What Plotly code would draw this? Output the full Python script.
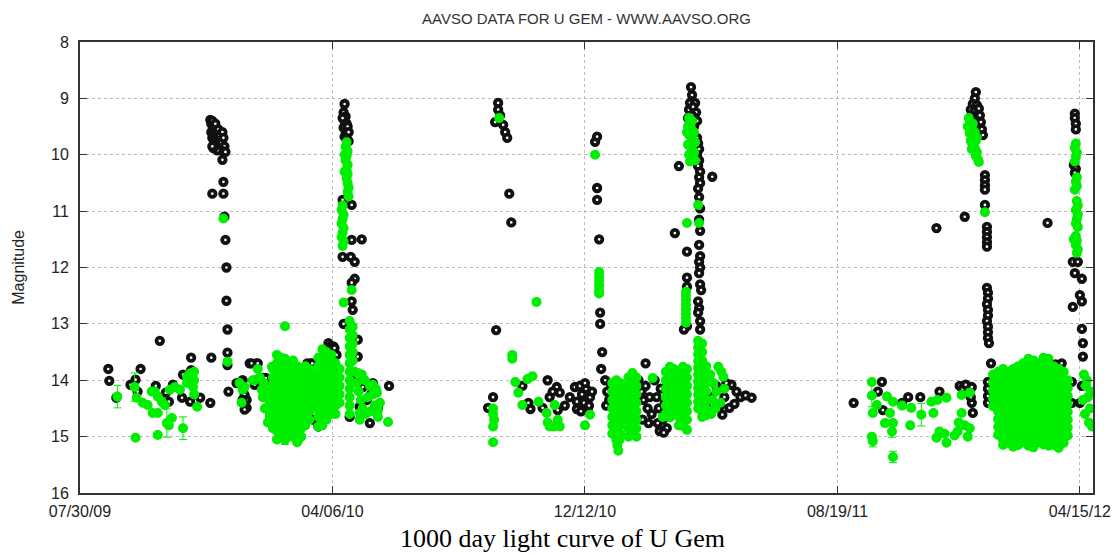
import pandas as pd
import plotly.graph_objects as go

# U Gem light curve, AAVSO, ~1000 days from 07/30/09
# day = days after 2009-07-30, mag = visual magnitude
start = pd.Timestamp('2009-07-30')

tick_dates = ['2009-07-30', '2010-04-06', '2010-12-12', '2011-08-19', '2012-04-15']
tick_text = ['07/30/09', '04/06/10', '12/12/10', '08/19/11', '04/15/12']

# black points (day, mag)
black_2009 = [(28, 13.8), (29, 14.01), (36, 14.31), (50, 14.08), (55, 13.99), (57, 14.2), (60, 13.8),
              (75, 14.1), (79, 13.3), (85, 14.22), (88, 14.38), (92, 14.08), (101, 14.31), (102, 13.9),
              (109, 14.38), (110, 13.6), (110, 13.82), (119, 14.31), (129, 14.4), (130, 13.6), (147, 14.2),
              (155, 14.05), (161, 14.0), (163, 14.26), (165, 14.49), (165, 14.35), (168, 13.7), (173, 14.08),
              (175, 13.7), (181, 14.0), (188, 14.02), (160, 14.03), (161, 14.35), (163, 14.52), (170, 13.7),
              (176, 13.7), (181, 13.96), (184, 13.96), (188, 14.2)]
black_ob1 = [(129, 9.38), (130, 9.45), (131, 9.4), (132, 9.5), (130, 9.6), (131, 9.7), (132, 9.62), (133, 9.55),
             (134, 9.45), (135, 9.6), (133, 9.8), (134, 9.75), (135, 9.88), (136, 9.7), (137, 9.55), (137, 9.82),
             (138, 9.65), (139, 9.9), (140, 9.78), (141, 9.6), (142, 9.7), (143, 9.85), (141, 9.93), (144, 9.95),
             (136, 9.92), (132, 9.88), (131, 9.85), (141, 10.09), (142, 10.48), (131, 10.69), (142, 10.69),
             (143, 11.1), (144, 11.51), (145, 12.0), (145, 12.59), (146, 13.1), (146, 13.51), (146, 13.73)]
black_2010a = [(218, 13.82), (225, 13.7), (228, 13.7), (230, 13.7), (226, 14.0), (231, 14.7), (235, 14.7),
               (236, 14.82), (246, 13.34), (248, 13.4), (251, 13.4), (252, 13.43), (254, 13.55), (246, 14.29),
               (262, 13.0), (275, 13.28), (274, 13.94), (280, 14.12), (290, 14.05), (288, 14.25), (287, 14.76),
               (277, 14.47), (267, 14.65), (275, 13.58), (306, 14.1), (284, 14.35), (295, 14.5)]
black_ob2 = [(262, 9.1), (261, 9.25), (263, 9.32), (262, 9.4), (264, 9.45), (261, 9.52), (263, 9.58), (265, 9.62),
             (262, 9.68), (264, 9.72), (266, 9.76), (265, 9.5), (260, 9.35), (266, 9.6), (260, 10.8), (269, 10.89),
             (269, 11.51), (279, 11.5), (260, 11.81), (268, 11.81), (272, 11.9), (272, 12.2), (269, 12.27),
             (269, 12.6), (270, 12.75), (261, 13.0)]
black_2010b = [(414, 9.08), (414, 9.2), (411, 9.42), (419, 9.47), (416, 9.3), (421, 9.6), (423, 9.7), (425, 10.69),
               (427, 11.2), (412, 13.11), (409, 14.3), (404, 14.49), (438, 14.1), (444, 14.4), (446, 14.51),
               (463, 14.0), (465, 14.3), (472, 14.12), (475, 14.22), (473, 14.53), (458, 14.49), (490, 14.12),
               (492, 14.38), (492, 14.51), (468, 14.2), (480, 14.45), (485, 14.3)]
black_2011a = [(495, 14.1), (497, 14.25), (499, 14.4), (501, 14.15), (503, 14.5), (505, 14.3), (507, 14.2),
               (496, 14.55), (500, 14.05), (504, 14.45), (510, 9.77), (512, 9.68), (512, 10.59), (512, 10.8),
               (514, 11.5), (515, 12.8), (515, 13.0), (517, 13.5), (516, 13.8), (520, 14.0), (522, 14.2),
               (524, 14.35), (526, 14.1), (527, 14.47), (521, 14.45), (553, 14.0), (556, 14.2), (558, 14.35),
               (560, 14.1), (562, 14.5), (564, 14.3), (566, 14.6), (557, 14.7), (560, 13.7), (563, 14.76),
               (569, 14.0), (571, 14.3), (573, 14.5), (575, 14.15), (577, 14.7), (579, 14.4), (581, 14.85),
               (583, 14.2), (585, 14.6), (587, 13.95), (589, 14.3), (591, 14.5), (574, 14.9), (578, 14.93),
               (572, 14.76)]
black_ob3 = [(605, 8.8), (606, 8.94), (604, 9.08), (609, 9.08), (603, 9.2), (607, 9.15), (610, 9.25), (602, 9.35),
             (606, 9.3), (611, 9.4), (604, 9.45), (608, 9.5), (611, 9.7), (612, 9.8), (613, 9.9), (611, 10.0),
             (613, 10.1), (612, 10.2), (614, 10.3), (613, 10.4), (614, 10.5), (612, 10.6), (613, 10.75),
             (614, 10.95), (613, 11.15), (614, 11.35), (613, 11.6), (614, 11.8), (613, 11.9), (614, 12.0),
             (613, 12.1), (614, 12.3), (615, 12.4), (612, 12.6), (613, 12.72), (612, 12.8), (614, 12.95),
             (614, 13.1), (593, 10.2), (626, 10.39), (589, 11.39), (601, 11.72), (601, 12.18), (601, 12.34),
             (601, 13.04), (598, 13.1), (615, 13.9), (618, 14.2), (621, 14.5), (625, 14.3), (630, 14.1),
             (634, 14.45), (636, 14.61), (643, 14.49), (645, 14.08), (648, 14.42), (650, 14.2), (654, 14.3),
             (659, 14.27), (665, 14.31), (640, 14.05), (638, 14.3)]
black_2012 = [(766, 14.4), (790, 14.2), (794, 14.03), (795, 14.53), (814, 14.4), (820, 14.3), (832, 14.3),
              (851, 14.2), (871, 14.1), (874, 14.15), (877, 14.08), (880, 14.2), (883, 14.12), (883, 14.4),
              (884, 14.58), (882, 14.3), (848, 11.3), (876, 11.1), (958, 11.21),
              (887, 8.89), (886, 9.0), (884, 9.1), (888, 9.12), (882, 9.2), (886, 9.22), (890, 9.18), (883, 9.3),
              (887, 9.35), (891, 9.3), (885, 9.4), (889, 9.45), (892, 9.42), (883, 9.77), (893, 9.55),
              (894, 9.65), (896, 10.36), (896, 10.45), (896, 10.54), (896, 10.62), (896, 10.89), (898, 11.28),
              (898, 11.37), (898, 11.46), (898, 11.55), (898, 11.63), (898, 12.36), (899, 12.45), (899, 12.55),
              (898, 12.65), (899, 12.75), (899, 12.85), (898, 12.95), (899, 13.05), (899, 13.15), (899, 13.25),
              (900, 13.34), (902, 13.7), (899, 14.03), (899, 14.15), (899, 14.28), (899, 14.4),
              (960, 13.7), (966, 13.72), (972, 13.7), (982, 14.03), (982, 14.4), (905, 14.1),
              (985, 9.27), (985, 9.35), (986, 9.45), (986, 9.55), (984, 10.18), (986, 10.25), (985, 10.32),
              (983, 11.9), (988, 11.9), (985, 12.1), (992, 12.2), (990, 12.49), (992, 12.6), (983, 12.7),
              (992, 13.09), (993, 13.34), (993, 13.58), (992, 14.1), (990, 14.4)]

# green points (day, mag)
green_2009 = [(56, 14.31), (62, 14.4), (67, 14.44), (71, 14.2), (74, 14.2), (77, 14.29), (72, 14.58), (77, 14.58),
              (81, 14.38), (84, 14.44), (88, 14.8), (91, 14.67), (89, 14.17), (94, 14.12), (99, 14.17),
              (77, 14.97), (55, 15.02), (106, 13.94), (109, 13.88), (113, 13.85), (113, 14.0), (112, 14.12),
              (113, 14.25), (116, 14.47), (106, 14.05), (142, 11.13), (146, 13.67), (158, 14.05), (161, 14.17),
              (160, 14.4), (171, 14.0), (176, 13.8), (180, 14.17), (185, 14.26), (190, 13.76), (185, 14.49),
              (188, 14.58), (203, 13.04), (236, 14.82), (216, 15.06), (163, 14.12), (173, 14.0), (178, 13.95),
              (182, 14.05), (185, 14.2), (187, 14.35), (183, 14.5), (188, 14.65), (186, 14.75), (181, 14.3)]
green_blob1 = {
    191: [13.8, 13.95, 14.1, 14.25, 14.4, 14.55, 14.7, 14.85],
    195: [13.55, 13.7, 13.85, 14.0, 14.15, 14.3, 14.45, 14.6, 14.75, 14.9, 15.05],
    199: [13.6, 13.75, 13.9, 14.05, 14.2, 14.35, 14.5, 14.65, 14.8, 14.95],
    203: [13.62, 13.77, 13.92, 14.07, 14.22, 14.37, 14.52, 14.67, 14.82, 14.95],
    207: [13.7, 13.85, 14.0, 14.15, 14.3, 14.45, 14.6, 14.75, 14.9],
    211: [13.65, 13.8, 13.95, 14.1, 14.25, 14.4, 14.55, 14.7, 14.85, 15.0],
    215: [13.75, 13.9, 14.05, 14.2, 14.35, 14.5, 14.65, 14.8, 14.95, 15.1],
    219: [13.8, 13.95, 14.1, 14.25, 14.4, 14.55, 14.7, 14.85, 15.0],
    223: [13.75, 13.9, 14.05, 14.2, 14.35, 14.5, 14.65, 14.8],
    227: [13.8, 13.95, 14.1, 14.25, 14.4, 14.55, 14.7],
    231: [13.9, 14.05, 14.2, 14.35, 14.5],
    236: [13.6, 13.75, 13.9, 14.05, 14.2, 14.35, 14.5, 14.65],
    240: [13.45, 13.6, 13.75, 13.9, 14.05, 14.2, 14.35, 14.5, 14.65, 14.8],
    244: [13.5, 13.65, 13.8, 13.95, 14.1, 14.25, 14.4, 14.55, 14.7],
    249: [13.55, 13.7, 13.85, 14.0, 14.15, 14.3, 14.45, 14.6],
    253: [13.7, 13.85, 14.0, 14.15, 14.3, 14.45, 14.6],
    257: [13.8, 13.95, 14.1, 14.25, 14.4],
    267: [12.95, 13.1, 13.25, 13.4, 13.55, 13.7, 13.85, 14.0, 14.15, 14.3, 14.45, 14.6],
    270: [13.05, 13.2, 13.35, 13.5, 13.65],
}
green_2010 = [(274, 14.05), (276, 14.2), (278, 14.35), (280, 14.5), (283, 14.6), (285, 14.3), (287, 14.1),
              (290, 14.25), (292, 14.45), (295, 14.65), (297, 14.4), (279, 13.9), (282, 14.0), (288, 14.55),
              (293, 14.15), (305, 14.74), (277, 14.7), (272, 13.85), (275, 13.87), (290, 14.08), (294, 14.22),
              (295, 14.53), (277, 14.58),
              (264, 9.78), (263, 9.86), (265, 9.94), (264, 10.02), (263, 10.1), (265, 10.18), (264, 10.26),
              (265, 10.34), (264, 10.42), (265, 10.5), (266, 10.58), (265, 10.66), (266, 10.74), (262, 10.3),
              (262, 10.0), (260, 10.9), (259, 10.98), (261, 11.06), (260, 11.14), (259, 11.22), (261, 11.3),
              (260, 11.38), (259, 11.46), (261, 11.54), (260, 11.62), (269, 12.4), (261, 12.62),
              (415, 9.35), (409, 14.5), (409, 14.6), (410, 14.7), (409, 14.82), (409, 15.1), (428, 13.55),
              (428, 13.62), (452, 12.61), (431, 14.03), (434, 14.22), (443, 13.98), (448, 13.93), (438, 14.44),
              (454, 14.38), (462, 14.58), (465, 14.82), (470, 14.44), (473, 14.7), (475, 14.82), (463, 14.75)]
green_2011 = [(505, 14.61), (500, 14.8), (510, 10.0), (514, 12.08), (514, 12.16), (514, 12.24), (514, 12.32),
              (514, 12.4), (514, 12.46), (532, 15.15), (533, 15.25), (534, 15.06), (567, 13.96), (577, 14.65),
              (603, 9.35), (606, 9.4), (602, 9.5), (605, 9.55), (608, 9.6), (603, 9.65), (606, 9.72), (609, 9.78),
              (602, 9.82), (605, 9.88), (608, 9.95), (603, 10.0), (606, 10.05), (604, 10.12), (609, 10.1),
              (601, 9.6), (612, 10.89), (613, 11.21), (601, 11.21),
              (624, 13.9), (627, 14.05), (630, 14.2), (626, 14.35), (629, 14.5), (632, 13.76), (635, 13.85),
              (637, 13.94), (634, 14.4), (638, 14.15), (625, 14.6)]
green_strips = {
    527: [14.05, 14.2, 14.35, 14.5, 14.65, 14.8, 14.95],
    531: [14.0, 14.15, 14.3, 14.45, 14.6, 14.75, 14.9, 15.05],
    535: [14.05, 14.2, 14.35, 14.5, 14.65, 14.8, 14.95],
    538: [14.1, 14.25, 14.4, 14.55, 14.7],
    543: [13.95, 14.1, 14.25, 14.4, 14.55, 14.7, 14.85, 15.0],
    547: [13.87, 14.02, 14.17, 14.32, 14.47, 14.62, 14.77, 14.92],
    551: [13.95, 14.1, 14.25, 14.4, 14.55, 14.7, 14.85, 15.0],
    580: [13.85, 14.0, 14.15, 14.3, 14.45, 14.6],
    584: [13.76, 13.91, 14.06, 14.21, 14.36, 14.51, 14.66],
    588: [13.8, 13.95, 14.1, 14.25, 14.4, 14.55],
    593: [13.9, 14.05, 14.2, 14.35, 14.5, 14.65, 14.8],
    597: [13.76, 13.91, 14.06, 14.21, 14.36, 14.51, 14.66, 14.81],
    600: [12.43, 12.5, 12.58, 12.66, 12.74, 12.82, 12.9, 12.98],
    601: [13.8, 13.95, 14.1, 14.25, 14.4, 14.55, 14.7, 14.88],
    612: [13.3, 13.42, 13.54, 13.66, 13.78, 13.9, 14.02, 14.14, 14.26, 14.38, 14.5],
    616: [13.35, 13.5, 13.65, 13.8, 13.95, 14.1, 14.25, 14.4, 14.55, 14.65],
    620: [13.75, 13.9, 14.05, 14.2, 14.35, 14.5, 14.62],
}
green_2012 = [(784, 14.03), (785, 14.58), (784, 15.0), (789, 14.44), (799, 14.29), (805, 14.38), (802, 14.58),
              (797, 14.76), (805, 14.76), (814, 14.45), (822, 14.8), (823, 14.49), (843, 14.38), (845, 14.58),
              (849, 14.35), (851, 14.91), (856, 14.95), (848, 15.02), (858, 15.11), (858, 14.31), (869, 14.91),
              (873, 14.58), (876, 14.8), (879, 15.0), (881, 14.85), (873, 14.26), (881, 14.22), (866, 14.98),
              (870, 14.75),
              (880, 9.35), (882, 9.45), (879, 9.5), (883, 9.55), (881, 9.62), (884, 9.68), (882, 9.75), (885, 9.8),
              (887, 9.75), (886, 9.88), (888, 9.95), (887, 10.02), (889, 10.08), (890, 10.13), (884, 9.45),
              (886, 9.6), (888, 9.7), (883, 9.9), (896, 11.02),
              (986, 9.8), (985, 9.88), (987, 9.96), (986, 10.04), (985, 10.12), (987, 10.4), (986, 10.48),
              (987, 10.56), (985, 10.62), (987, 10.82), (988, 10.9), (986, 10.98), (988, 11.06), (987, 11.14),
              (986, 11.22), (988, 11.28), (986, 11.44), (987, 11.52), (986, 11.6), (988, 11.68), (987, 11.74),
              (984, 11.5), (994, 13.9), (996, 14.1), (998, 14.3), (1000, 14.5), (995, 14.6), (999, 14.75),
              (1001, 14.2), (997, 14.0), (1002, 14.82), (993, 14.35)]
green_blob4 = {
    904: [13.9, 14.04, 14.18, 14.32, 14.46],
    909: [13.85, 13.99, 14.13, 14.27, 14.41, 14.55, 14.69, 14.83, 14.97],
    914: [13.8, 13.94, 14.08, 14.22, 14.36, 14.5, 14.64, 14.78, 14.92, 15.06, 15.15],
    919: [13.85, 13.99, 14.13, 14.27, 14.41, 14.55, 14.69, 14.83, 14.97, 15.11],
    924: [13.8, 13.94, 14.08, 14.22, 14.36, 14.5, 14.64, 14.78, 14.92, 15.06, 15.18],
    929: [13.75, 13.89, 14.03, 14.17, 14.31, 14.45, 14.59, 14.73, 14.87, 15.01, 15.15],
    934: [13.7, 13.84, 13.98, 14.12, 14.26, 14.4, 14.54, 14.68, 14.82, 14.96, 15.1],
    939: [13.62, 13.76, 13.9, 14.04, 14.18, 14.32, 14.46, 14.6, 14.74, 14.88, 15.02, 15.16],
    944: [13.65, 13.79, 13.93, 14.07, 14.21, 14.35, 14.49, 14.63, 14.77, 14.91, 15.05, 15.19],
    949: [13.7, 13.84, 13.98, 14.12, 14.26, 14.4, 14.54, 14.68, 14.82, 14.96, 15.1],
    954: [13.6, 13.74, 13.88, 14.02, 14.16, 14.3, 14.44, 14.58, 14.72, 14.86, 15.0, 15.14],
    959: [13.62, 13.76, 13.9, 14.04, 14.18, 14.32, 14.46, 14.6, 14.74, 14.88, 15.02, 15.16],
    964: [13.75, 13.89, 14.03, 14.17, 14.31, 14.45, 14.59, 14.73, 14.87, 15.01, 15.15],
    969: [13.8, 13.94, 14.08, 14.22, 14.36, 14.5, 14.64, 14.78, 14.92, 15.06, 15.2],
    974: [13.85, 13.99, 14.13, 14.27, 14.41, 14.55, 14.69, 14.83, 14.97, 15.11],
    978: [14.0, 14.14, 14.28, 14.42, 14.56, 14.7, 14.84, 14.98],
}
# green points carrying error bars (day, mag, err)
green_err = [(37, 14.29, 0.2), (54, 14.12, 0.25), (86, 14.76, 0.25), (102, 14.85, 0.2), (203, 15.06, 0.08),
             (469, 14.82, 0.05), (784, 14.27, 0.2), (785, 15.08, 0.1), (804, 14.91, 0.1), (805, 15.36, 0.1),
             (833, 14.61, 0.2)]


def cols(d):
    return [(k, m) for k, ms in d.items() for m in ms]


black = pd.DataFrame(black_2009 + black_ob1 + black_2010a + black_ob2 + black_2010b + black_2011a
                     + black_ob3 + black_2012, columns=['day', 'mag'])
green = pd.DataFrame(green_2009 + cols(green_blob1) + green_2010 + green_2011 + cols(green_strips)
                     + green_2012 + cols(green_blob4), columns=['day', 'mag'])
gerr = pd.DataFrame(green_err, columns=['day', 'mag', 'err'])
for df in (black, green, gerr):
    df['date'] = start + pd.to_timedelta(df['day'], unit='D')

GREEN = '#00ee00'
fig = go.Figure()
fig.add_trace(go.Scatter(x=black['date'], y=black['mag'], mode='markers',
                         marker=dict(symbol='circle', size=6.5, color='white',
                                     line=dict(color='#111', width=3.8))))
fig.add_trace(go.Scatter(x=gerr['date'], y=gerr['mag'], mode='markers',
                         error_y=dict(type='data', array=gerr['err'], color=GREEN, thickness=1, width=4),
                         marker=dict(symbol='circle', size=7, color=GREEN,
                                     line=dict(color=GREEN, width=3))))
fig.add_trace(go.Scatter(x=green['date'], y=green['mag'], mode='markers',
                         marker=dict(symbol='circle', size=7, color=GREEN,
                                     line=dict(color=GREEN, width=3))))

axis_style = dict(showline=True, linecolor='#333', linewidth=2, mirror='allticks', ticks='inside',
                  ticklen=7, tickcolor='#333', showgrid=True, gridcolor='#bbb', griddash='dot',
                  gridwidth=1, zeroline=False, automargin=False,
                  tickfont=dict(family='Liberation Sans', size=16, color='#222'))

fig.update_xaxes(type='date', range=[start, start + pd.Timedelta(days=1003)],
                 tickvals=tick_dates, ticktext=tick_text, ticklabelstandoff=3, **axis_style)
fig.update_yaxes(range=[16, 8], tickvals=list(range(8, 17)), ticklabelstandoff=6, **axis_style)

# the page adds an 8px body margin, so the figure is 8px smaller and shifted
fig.update_layout(
    width=1112, height=546,
    margin=dict(l=72, r=27, t=34, b=61),
    plot_bgcolor='white', paper_bgcolor='white',
    showlegend=False,
    title=dict(text='AAVSO DATA FOR U GEM - WWW.AAVSO.ORG', x=0.5, xref='paper', xanchor='center',
               y=0.99, yref='container', yanchor='top',
               font=dict(family='Liberation Sans', size=15, color='#333')),
    annotations=[
        dict(text='Magnitude', textangle=-90, xref='paper', yref='paper', x=-0.061, y=0.5,
             xanchor='center', yanchor='middle', showarrow=False,
             font=dict(family='Liberation Sans', size=16, color='#222')),
        dict(text='1000 day light curve of U Gem', xref='paper', yref='paper',
             x=0.476, y=-0.1, xanchor='center', yanchor='middle', showarrow=False,
             font=dict(family='Liberation Serif', size=26, color='black')),
    ],
)

fig.write_html('out.html')
